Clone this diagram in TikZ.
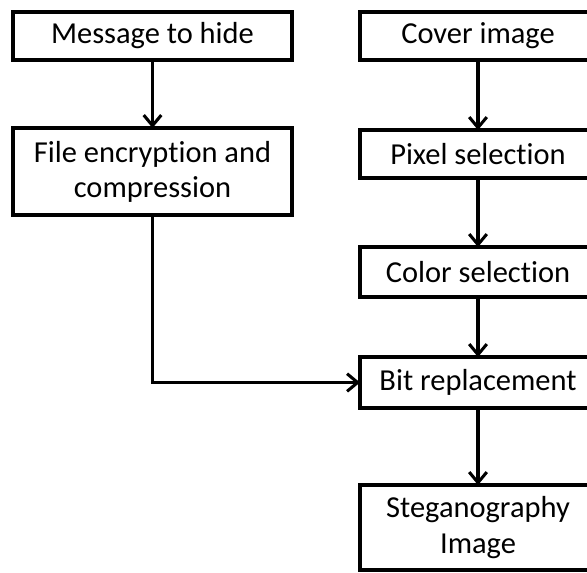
\documentclass[tikz,border=0pt]{standalone}
\usepackage{fontspec}
\setmainfont{Carlito}[Ligatures=NoCommon]
\usetikzlibrary{arrows.meta,positioning}

\begin{document}
\begin{tikzpicture}[font=\fontsize{26}{30}\selectfont,line width=2.6pt]
\tikzset{blk/.style={draw=black,line width=2.6pt,align=center,inner sep=0pt,outer sep=0pt},
  lbox/.style={blk,minimum width=8.37cm,minimum height=1.44cm},
  rbox/.style={blk,minimum width=7.08cm,minimum height=1.44cm},
  arr/.style={-{Straight Barb[length=9pt,width=15pt]},line width=2.6pt}}
\useasboundingbox (-4.575,1.08) rectangle (13.035,-16.08);
% left column: message
\node[lbox] (msg) at (0,0) {Message to hide};
\node[lbox,below=2.04cm of msg,minimum height=2.61cm] (enc) {File encryption and\\compression};
% right column: cover image
\node[rbox,right=2.04cm of msg] (cover) {Cover image};
\node[rbox,below=2.1cm of cover] (pix) {Pixel selection};
\node[rbox,below=2.07cm of pix,minimum height=1.5cm] (col) {Color selection};
\node[rbox,below=1.8cm of col,minimum height=1.53cm] (bit) {Bit replacement};
\node[rbox,below=2.31cm of bit,minimum height=2.55cm] (steg) {Steganography\\Image};
\draw[arr] (msg) -- (enc);
\draw[arr] (cover) -- (pix);
\draw[arr] (pix) -- (col);
\draw[arr] (col) -- (bit);
\draw[arr] (enc.south) |- (bit.west);
\draw[arr] (bit) -- (steg);
\end{tikzpicture}
\end{document}
